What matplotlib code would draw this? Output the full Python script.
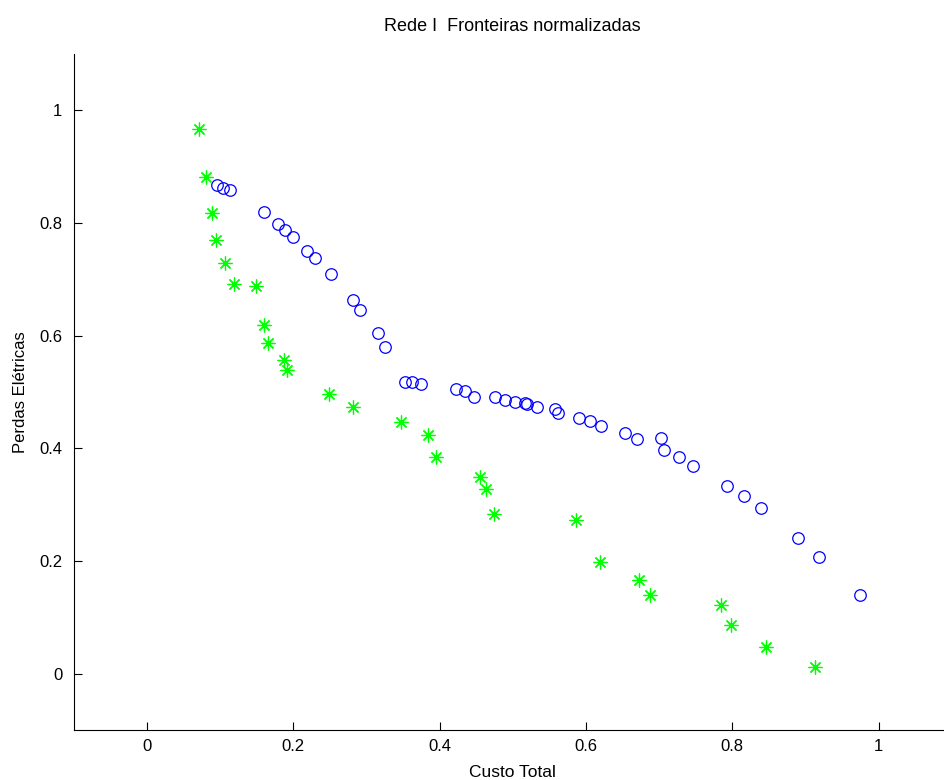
import numpy as np
import matplotlib
matplotlib.use('Agg')
import matplotlib.pyplot as plt

plt.rcParams['font.family'] = ['Liberation Sans', 'DejaVu Sans']

# Rede I - frente A (circulos azuis)
custo_a = [0.0956, 0.1046, 0.1142, 0.1607, 0.1790, 0.1890, 0.1995, 0.2194, 0.2295,
           0.2511, 0.2822, 0.2918, 0.3164, 0.3260, 0.3522, 0.3628, 0.3747, 0.4225,
           0.4352, 0.4471, 0.4754, 0.4895, 0.5036, 0.5172, 0.5189, 0.5325, 0.5578,
           0.5622, 0.5899, 0.6060, 0.6202, 0.6530, 0.6702, 0.7029, 0.7067, 0.7272,
           0.7467, 0.7932, 0.8153, 0.8388, 0.8902, 0.9184, 0.9745]
perdas_a = [0.867, 0.862, 0.858, 0.819, 0.798, 0.788, 0.775, 0.750, 0.737,
            0.709, 0.663, 0.645, 0.604, 0.579, 0.517, 0.517, 0.514, 0.505,
            0.501, 0.491, 0.492, 0.486, 0.482, 0.480, 0.479, 0.473, 0.469,
            0.463, 0.453, 0.448, 0.440, 0.428, 0.417, 0.418, 0.397, 0.384,
            0.369, 0.333, 0.316, 0.295, 0.242, 0.208, 0.140]

# Rede I - frente B (asteriscos verdes)
custo_b = [0.0719, 0.0810, 0.0888, 0.0947, 0.1070, 0.1189, 0.1493, 0.1596, 0.1650,
           0.1869, 0.1913, 0.2495, 0.2814, 0.3467, 0.3847, 0.3948, 0.4546, 0.4635,
           0.4749, 0.5865, 0.6193, 0.6725, 0.6876, 0.7842, 0.7975, 0.8456, 0.9123]
perdas_b = [0.966, 0.882, 0.817, 0.770, 0.728, 0.692, 0.688, 0.619, 0.586,
            0.556, 0.539, 0.496, 0.473, 0.446, 0.424, 0.384, 0.350, 0.328,
            0.284, 0.273, 0.199, 0.167, 0.140, 0.122, 0.087, 0.047, 0.013]

x_ticks = [0, 0.2, 0.4, 0.6, 0.8, 1]
y_ticks = [0, 0.2, 0.4, 0.6, 0.8, 1]
tick_labels = ['0', '0.2', '0.4', '0.6', '0.8', '1']

fig = plt.figure(figsize=(9.44, 7.8), dpi=100, facecolor='white')
ax = fig.add_axes([0.0779, 0.0636, 0.9305, 0.8677])

ax.plot(custo_a, perdas_a, 'o', color='#0000ff', mfc='none', ms=8.3, mew=0.9)
ax.plot(custo_b, perdas_b, ls='none', marker=(8, 2, 0), color='#00ff00', ms=10, mew=0.9)

ax.set_xlim(-0.1, 1.1)
ax.set_ylim(-0.1, 1.1)
ax.set_xticks(x_ticks)
ax.set_xticklabels(tick_labels)
ax.set_yticks(y_ticks)
ax.set_yticklabels(tick_labels)
ax.tick_params(direction='in', length=6, width=0.8, labelsize=12)
ax.tick_params(axis='x', pad=6)
ax.tick_params(axis='y', pad=8)

ax.spines['top'].set_visible(False)
ax.spines['right'].set_visible(False)
ax.spines['left'].set_linewidth(0.8)
ax.spines['bottom'].set_linewidth(0.8)

ax.set_title('Rede I  Fronteiras normalizadas', fontsize=13, pad=16)
ax.set_xlabel('Custo Total', fontsize=12.5, labelpad=8)
ax.set_ylabel('Perdas Elétricas', fontsize=12, labelpad=8)

fig.savefig('out.png', dpi=100, facecolor='white')
